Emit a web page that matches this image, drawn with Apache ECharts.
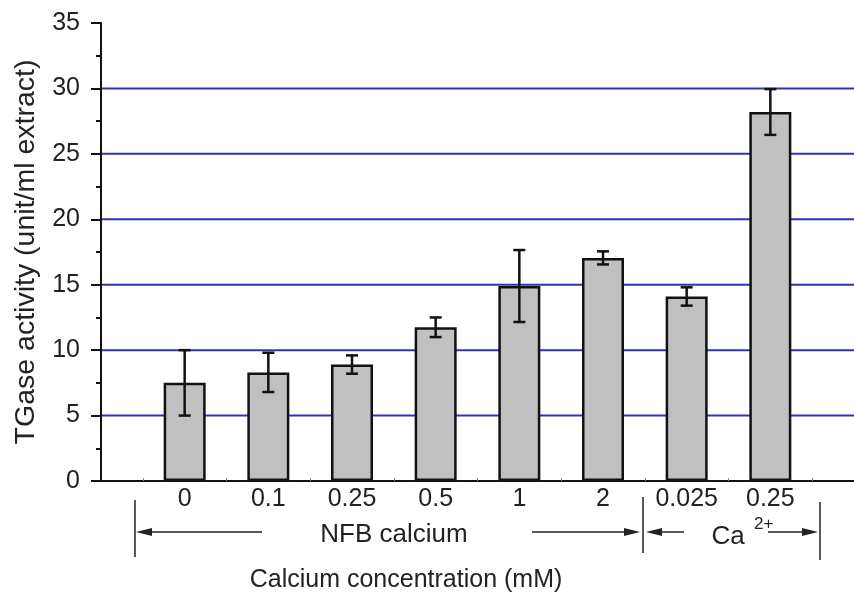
<!DOCTYPE html>
<html>
<head>
<meta charset="utf-8">
<script src="https://cdn.jsdelivr.net/npm/echarts@6/dist/echarts.min.js"></script>
<style>
html,body{margin:0;padding:0;background:#fff;}
#c{width:854px;height:592px;}
</style>
</head>
<body>
<div id="c"></div>
<script>
// ---- data ----
var categories = ['0', '0.1', '0.25', '0.5', '1', '2', '0.025', '0.25'];
var activity   = [7.5, 8.3, 8.9, 11.75, 14.9, 17.05, 14.1, 28.2];
var errors     = [2.5, 1.5, 0.7, 0.75, 2.75, 0.5, 0.7, 1.75];
var gridValues = [5, 10, 15, 20, 25, 30];
var yTicks     = [0, 5, 10, 15, 20, 25, 30, 35];

var FONT = 'Liberation Sans, Arial, sans-serif';
var xPos = categories.map(function (_, i) { return i + 1; });
var barData = xPos.map(function (x, i) { return [x, activity[i]]; });
var errData = xPos.map(function (x, i) { return [x, activity[i] - errors[i], activity[i] + errors[i]]; });
var boundaries = xPos.map(function (x) { return x - 0.5; }).concat([xPos.length + 0.5]);

var chart = echarts.init(document.getElementById('c'), null, {renderer: 'canvas'});

var option = {
  animation: false,
  backgroundColor: '#fff',
  grid: {left: 101, right: 0, top: 23, bottom: 111, containLabel: false},
  xAxis: {
    type: 'value', min: 0, max: categories.length + 1,
    axisLine: {show: true, onZero: false, lineStyle: {color: '#111', width: 2}},
    axisTick: {show: true, inside: true, length: 3, customValues: boundaries, lineStyle: {color: '#888', width: 1}},
    axisLabel: {
      show: true, customValues: xPos, margin: 6,
      fontFamily: FONT, fontSize: 25, color: '#222',
      formatter: function (v) { return categories[Math.round(v) - 1] || ''; }
    },
    splitLine: {show: false}
  },
  yAxis: {
    type: 'value', min: 0, max: 35, interval: 5,
    name: 'TGase activity (unit/ml extract)',
    nameLocation: 'middle', nameGap: 60, nameRotate: 90,
    nameTextStyle: {fontFamily: FONT, fontSize: 28.5, color: '#222'},
    axisLine: {show: true, lineStyle: {color: '#111', width: 2}},
    axisTick: {show: true, inside: false, length: 10, lineStyle: {color: '#111', width: 2}},
    minorTick: {show: true, splitNumber: 2, length: 5, lineStyle: {color: '#111', width: 2}},
    axisLabel: {
      margin: 21, fontFamily: FONT, fontSize: 25, color: '#222',
      formatter: function (v) { return yTicks.indexOf(v) >= 0 ? String(v) : ''; }
    },
    splitLine: {show: false}
  },
  series: [
    {
      type: 'custom', z: 1, silent: true,
      data: gridValues.map(function (g) { return [g]; }),
      renderItem: function (params, api) {
        var y = api.value(0);
        var a = api.coord([0, y]);
        var b = api.coord([categories.length + 1, y]);
        return {type: 'line', shape: {x1: a[0] + 1, y1: a[1], x2: b[0], y2: b[1]},
                style: {stroke: '#3232b8', lineWidth: 2}};
      }
    },
    {
      type: 'bar', z: 2, data: barData, barWidth: 42,
      itemStyle: {color: '#c0c0c0', borderColor: '#111', borderWidth: 2.5}
    },
    {
      type: 'custom', z: 3, silent: true, data: errData,
      renderItem: function (params, api) {
        var x = api.value(0);
        var lo = api.coord([x, api.value(1)]);
        var hi = api.coord([x, api.value(2)]);
        var hw = 6;
        var st = {stroke: '#111', lineWidth: 2.5};
        return {type: 'group', children: [
          {type: 'line', shape: {x1: hi[0], y1: hi[1], x2: lo[0], y2: lo[1]}, style: st},
          {type: 'line', shape: {x1: hi[0] - hw, y1: hi[1], x2: hi[0] + hw, y2: hi[1]}, style: st},
          {type: 'line', shape: {x1: lo[0] - hw, y1: lo[1], x2: lo[0] + hw, y2: lo[1]}, style: st}
        ]};
      }
    }
  ],
  graphic: [
    // left bracket and arrows (NFB calcium)
    {type: 'line', shape: {x1: 135, y1: 500, x2: 135, y2: 557}, style: {stroke: '#222', lineWidth: 1.5}},
    {type: 'line', shape: {x1: 140, y1: 532, x2: 262, y2: 532}, style: {stroke: '#222', lineWidth: 1.5}},
    {type: 'polygon', shape: {points: [[136, 532], [152, 528], [152, 536]]}, style: {fill: '#222'}},
    {type: 'text', x: 394, y: 535, style: {text: 'NFB calcium', fontFamily: FONT, fontSize: 26, fill: '#222', align: 'center', verticalAlign: 'middle'}},
    {type: 'line', shape: {x1: 532, y1: 532, x2: 636, y2: 532}, style: {stroke: '#222', lineWidth: 1.5}},
    {type: 'polygon', shape: {points: [[640, 532], [624, 528], [624, 536]]}, style: {fill: '#222'}},
    {type: 'line', shape: {x1: 643, y1: 497, x2: 643, y2: 553}, style: {stroke: '#222', lineWidth: 1.5}},
    // Ca2+
    {type: 'polygon', shape: {points: [[646, 532], [662, 528], [662, 536]]}, style: {fill: '#222'}},
    {type: 'line', shape: {x1: 650, y1: 532, x2: 684, y2: 532}, style: {stroke: '#222', lineWidth: 1.5}},
    {type: 'text', x: 728, y: 537, style: {text: 'Ca', fontFamily: FONT, fontSize: 26, fill: '#222', align: 'center', verticalAlign: 'middle'}},
    {type: 'text', x: 754, y: 524, style: {text: '2+', fontFamily: FONT, fontSize: 17, fill: '#222', align: 'left', verticalAlign: 'middle'}},
    {type: 'line', shape: {x1: 768, y1: 532, x2: 814, y2: 532}, style: {stroke: '#222', lineWidth: 1.5}},
    {type: 'polygon', shape: {points: [[818, 532], [802, 528], [802, 536]]}, style: {fill: '#222'}},
    {type: 'line', shape: {x1: 820, y1: 502, x2: 820, y2: 560}, style: {stroke: '#222', lineWidth: 1.5}},
    // x axis title
    {type: 'text', x: 406, y: 580, style: {text: 'Calcium concentration (mM)', fontFamily: FONT, fontSize: 25, fill: '#222', align: 'center', verticalAlign: 'middle'}}
  ]
};
chart.setOption(option);
</script>
</body>
</html>
